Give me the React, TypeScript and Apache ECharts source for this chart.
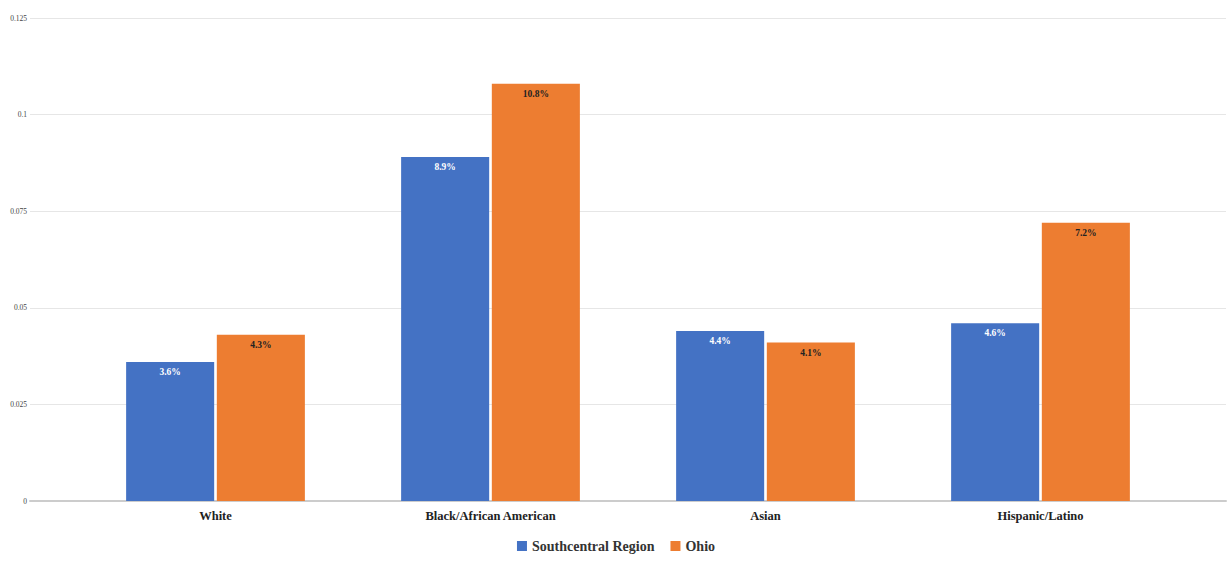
import React, { useEffect, useRef } from "react";
import * as echarts from "echarts";

const categories = ["White", "Black/African American", "Asian", "Hispanic/Latino"];
const southcentral = [0.036, 0.089, 0.044, 0.046];
const ohio = [0.043, 0.108, 0.041, 0.072];
const yTicks = [0, 0.025, 0.05, 0.075, 0.1, 0.125];

const FONT = "Liberation Serif";

export default function App() {
  const ref = useRef<HTMLDivElement>(null);
  useEffect(() => {
    if (!ref.current) return;
    const chart = echarts.init(ref.current, undefined, { renderer: "svg" });
    const pct = (v: number) => (v * 100).toFixed(1) + "%";
    chart.setOption({
      animation: false,
      textStyle: { fontFamily: FONT },
      legend: {
        bottom: 7,
        left: "center",
        itemWidth: 10,
        itemHeight: 10,
        itemGap: 16,
        icon: "rect",
        textStyle: { fontFamily: FONT, fontWeight: "bold", fontSize: 14, color: "#333" },
        data: ["Southcentral Region", "Ohio"],
      },
      grid: [
        { left: 30, right: 6, top: 18, bottom: 64, containLabel: false },
        { left: 78, right: 54, top: 18, bottom: 64, containLabel: false },
      ],
      xAxis: [
        {
          type: "category",
          gridIndex: 0,
          data: categories,
          axisLine: { show: true, lineStyle: { color: "#cccccc", width: 2 } },
          axisTick: { show: false },
          axisLabel: { show: false },
        },
        {
          type: "category",
          gridIndex: 1,
          data: categories,
          axisTick: { show: false },
          axisLine: { show: false },
          axisLabel: { fontFamily: FONT, fontWeight: "bold", fontSize: 12.5, color: "#222", margin: 8 },
        },
      ],
      yAxis: [
        {
          type: "value",
          gridIndex: 0,
          min: yTicks[0],
          max: yTicks[yTicks.length - 1],
          interval: 0.025,
          axisLine: { show: false },
          axisTick: { show: false },
          axisLabel: {
            fontSize: 7.5,
            color: "#444",
            margin: 3,
            formatter: (v: number) => String(+v.toFixed(3)),
          },
          splitLine: { lineStyle: { color: "#e6e6e6", width: 1 } },
        },
        {
          type: "value",
          gridIndex: 1,
          min: yTicks[0],
          max: yTicks[yTicks.length - 1],
          interval: 0.025,
          show: false,
          splitLine: { show: false },
        },
      ],
      series: [
        {
          name: "Southcentral Region",
          type: "bar",
          xAxisIndex: 1,
          yAxisIndex: 1,
          data: southcentral,
          itemStyle: { color: "#4472C4" },
          barCategoryGap: "35%",
          barGap: "3%",
          label: {
            show: true,
            position: "insideTop",
            distance: 5,
            color: "#ffffff",
            fontFamily: FONT,
            fontWeight: "bold",
            fontSize: 9.5,
            formatter: (p: any) => pct(p.value),
          },
        },
        {
          name: "Ohio",
          type: "bar",
          xAxisIndex: 1,
          yAxisIndex: 1,
          data: ohio,
          itemStyle: { color: "#ED7D31" },
          barCategoryGap: "35%",
          barGap: "3%",
          label: {
            show: true,
            position: "insideTop",
            distance: 5,
            color: "#222",
            fontFamily: FONT,
            fontWeight: "bold",
            fontSize: 9.5,
            formatter: (p: any) => pct(p.value),
          },
        },
      ],
    });
    return () => chart.dispose();
  }, []);
  return <div ref={ref} style={{ width: 1232, height: 565, position: "absolute", left: 0, top: 0 }} />;
}
